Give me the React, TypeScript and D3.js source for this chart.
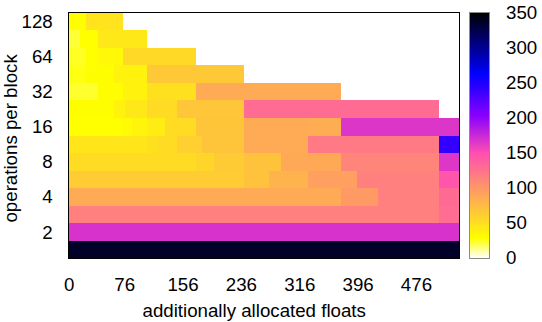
import React from "react";
import * as d3 from "d3";

// operations per block (row centres, log2 spaced)
const opsPerBlock = [128, 90.51, 64, 45.25, 32, 22.63, 16, 11.31, 8, 5.66, 4, 2.83, 2, 1.41];
const yTickValues = [2, 4, 8, 16, 32, 64, 128];
const xTickValues = [0, 76, 156, 236, 316, 396, 476];
const cbTickValues = [0, 50, 100, 150, 200, 250, 300, 350];

// cell edges along "additionally allocated floats" for each row (top to bottom)
const rowEdges = [
  [-1, 23, 74],
  [-1, 15, 39, 107],
  [-1, 23, 39, 74, 174],
  [-1, 23, 61, 107, 240],
  [-1, 39, 74, 107, 174, 373],
  [-1, 61, 77, 107, 148, 240, 507],
  [-1, 72, 86, 107, 131, 174, 240, 330, 373, 535],
  [-1, 107, 123, 148, 182, 240, 327, 507, 535],
  [-1, 174, 198, 240, 290, 373, 507, 535],
  [-1, 240, 274, 327, 394, 507, 535],
  [-1, 373, 423, 507, 535],
  [-1, 507, 535],
  [-1, 535],
  [-1, 535],
];
// cell values for each row
const rowValues = [
  [29, 47],
  [22, 28, 44],
  [24, 28, 33, 54],
  [26, 29, 37, 66],
  [23, 29, 37, 49, 86],
  [29, 37, 44, 52, 67, 129],
  [28, 31, 35, 41, 52, 68, 86, 84, 166],
  [46, 49, 52, 60, 68, 86, 119, 240],
  [52, 57, 64, 70, 87, 112, 165],
  [63, 70, 80, 94, 115, 145],
  [86, 97, 115, 130],
  [115, 128],
  [168],
  [336],
];

const W = 542;
const H = 322;
const left = 68.5;
const right = 459.5;
const top = 12.5;
const bottom = 258.5;
const FONT = "'Liberation Sans', Arial, Helvetica, sans-serif";
const FS = 18.7;

const clamp = (t: number) => Math.max(0, Math.min(1, t));
// gnuplot rgbformulae 30,31,32, negative
function gnuplotColor(t: number): string {
  const x = clamp(1 - t);
  const r = clamp(x / 0.32 - 0.78125);
  const g = clamp(2 * x - 0.84);
  let b: number;
  if (x < 0.25) b = 4 * x;
  else if (x < 0.42) b = 1;
  else if (x < 0.92) b = -2 * x + 1.84;
  else b = x / 0.08 - 11.5;
  b = clamp(b);
  return d3.rgb(r * 255, g * 255, b * 255).formatHex();
}

export default function App() {
  const xs = d3.scaleLinear().domain([-1, 535]).range([left, right]);
  const ys = d3.scaleLog().base(2).domain([Math.pow(2, 0.25), Math.pow(2, 7.25)]).range([bottom, top]);
  const color = d3.scaleSequential(gnuplotColor).domain([0, 350]);
  const cbX = 469.5;
  const cbW = 19.5;
  const cbScale = d3.scaleLinear().domain([0, 350]).range([bottom - 0.5, top]);
  const half = Math.pow(2, 0.25);

  const stops = d3.range(0, 101).map((i) => i / 100);

  const cells: React.ReactNode[] = [];
  opsPerBlock.forEach((ops, i) => {
    const y0 = ys(ops * half);
    const y1 = ys(ops / half);
    const edges = rowEdges[i];
    rowValues[i].forEach((v, j) => {
      const x0 = xs(edges[j]);
      const x1 = xs(edges[j + 1]);
      cells.push(
        <rect
          key={`${i}-${j}`}
          x={x0}
          y={y0}
          width={x1 - x0}
          height={y1 - y0}
          fill={color(v)}
          shapeRendering="crispEdges"
        />
      );
    });
  });

  return (
    <svg
      width={W}
      height={H}
      style={{ position: "absolute", left: 0, top: 0, background: "#fff" }}
      fontFamily={FONT}
      fontSize={FS}
    >
      <defs>
        <linearGradient id="cb" x1="0" y1="1" x2="0" y2="0">
          {stops.map((t) => (
            <stop key={t} offset={t} stopColor={gnuplotColor(t)} />
          ))}
        </linearGradient>
      </defs>
      <rect x={0} y={0} width={W} height={H} fill="#fff" />
      <g>{cells}</g>
      <rect
        x={left}
        y={top}
        width={right - left}
        height={bottom - top}
        fill="none"
        stroke="#000"
        strokeWidth={1}
        shapeRendering="crispEdges"
      />
      {yTickValues.map((v) => (
        <text key={v} x={52.7} y={ys(v)} dy="0.34em" textAnchor="end" fill="#000">
          {v}
        </text>
      ))}
      {xTickValues.map((v) => (
        <text key={v} x={xs(v)} y={290.5} textAnchor="middle" fill="#000">
          {v}
        </text>
      ))}
      <text x={254.2} y={316.5} textAnchor="middle" fill="#000">
        additionally allocated floats
      </text>
      <text transform={`translate(17,138.4) rotate(-90)`} textAnchor="middle" fill="#000">
        operations per block
      </text>
      <rect
        x={cbX}
        y={top}
        width={cbW}
        height={bottom - 0.5 - top}
        fill="url(#cb)"
        stroke="#8a8a8a"
        strokeWidth={1}
        shapeRendering="crispEdges"
      />
      {cbTickValues.map((v) => (
        <text key={v} x={506} y={cbScale(v)} dy="0.34em" textAnchor="start" fill="#000">
          {v}
        </text>
      ))}
    </svg>
  );
}
